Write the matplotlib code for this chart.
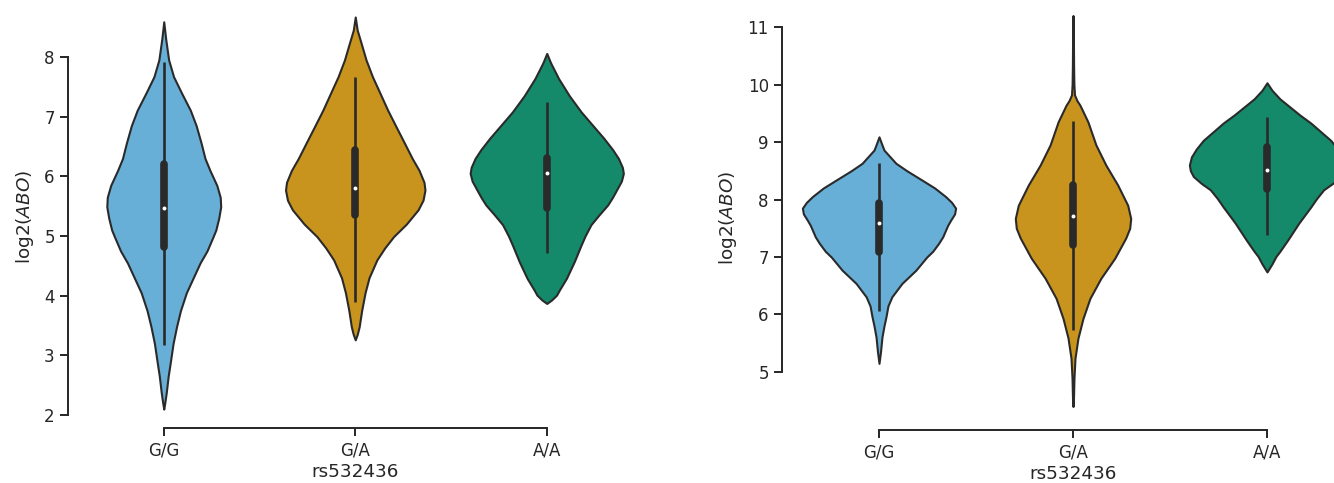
import colorsys
import numpy as np
import matplotlib
matplotlib.use("Agg")
import matplotlib.pyplot as plt
import matplotlib.colors as mcolors

genotypes = ["G/G", "G/A", "A/A"]

# left panel: outline (value, relative density)
left_gg_y = [8.59, 8.3, 7.95, 7.67, 7.4, 7.11, 6.85, 6.56, 6.3, 6.1, 5.85, 5.65, 5.49, 5.3,
             5.1, 4.98, 4.75, 4.55, 4.3, 4.05, 3.75, 3.48, 3.2, 2.92, 2.65, 2.37, 2.2, 2.1]
left_gg_d = [0, 2, 5, 10, 18, 27, 33, 38, 42, 47, 54, 57.5, 58, 56,
             53, 50, 44, 37, 30, 23, 17, 13, 9.5, 7, 4.5, 2.5, 1, 0]
left_ga_y = [8.67, 8.45, 8.23, 7.95, 7.67, 7.4, 7.11, 6.85, 6.56, 6.3, 6.1, 5.9, 5.77, 5.6,
             5.44, 5.2, 4.99, 4.8, 4.6, 4.3, 4.05, 3.75, 3.48, 3.35, 3.26]
left_ga_d = [0, 2, 6, 11, 17.5, 25, 33, 41, 50, 58, 65, 70, 71, 69,
             64, 52, 39, 30, 22, 14, 10, 6.5, 4, 2, 0]
left_aa_y = [8.06, 7.9, 7.64, 7.35, 7.08, 6.85, 6.64, 6.45, 6.3, 6.15, 6.05, 5.92, 5.8,
             5.65, 5.52, 5.35, 5.19, 5.0, 4.85, 4.57, 4.29, 4.1, 4.01, 3.93, 3.87]
left_aa_d = [0, 4, 12, 23, 35, 47, 58, 67, 73, 77, 78, 76, 72,
             67, 62, 53, 45, 39, 35, 28, 20, 13, 10, 5, 0]

# right panel
right_gg_y = [9.09, 8.95, 8.86, 8.63, 8.5, 8.34, 8.2, 8.05, 7.95, 7.85, 7.75, 7.64, 7.55,
              7.47, 7.35, 7.24, 7.1, 7.0, 6.77, 6.54, 6.31, 6.15, 5.96, 5.8, 5.61, 5.35, 5.15]
right_gg_d = [0, 3, 5, 17, 28, 43, 56, 67, 73, 77, 76, 72, 69,
              67, 64, 60, 54, 48, 37, 23, 13, 9, 7, 5, 3, 1.5, 0]
right_ga_y = [11.2, 10.8, 10.34, 10.0, 9.82, 9.72, 9.64, 9.35, 8.95, 8.6, 8.25, 7.9, 7.67,
              7.5, 7.33, 6.98, 6.63, 6.28, 5.93, 5.59, 5.24, 4.9, 4.55, 4.4]
right_ga_d = [0, 0.4, 0.6, 0.9, 1.5, 4, 7, 15, 23, 33, 45, 55, 58,
              57, 53, 42, 28, 17, 10, 5, 2, 1, 0.5, 0]
right_aa_y = [10.03, 9.9, 9.75, 9.61, 9.47, 9.33, 9.18, 9.03, 8.88, 8.74, 8.6, 8.5, 8.4,
              8.28, 8.17, 8.02, 7.87, 7.59, 7.3, 7.1, 7.01, 6.88, 6.74]
right_aa_d = [0, 5, 13, 23, 33, 44, 54, 64, 71, 76, 78, 77, 74,
              66, 57, 50, 44, 32, 21, 13, 9, 5, 0]

# box stats: whisker low, q1, median, q3, whisker high
left_box = [[3.17, 4.82, 5.47, 6.20, 7.92],
            [3.90, 5.35, 5.80, 6.44, 7.66],
            [4.72, 5.47, 6.06, 6.30, 7.25]]
right_box = [[6.06, 7.09, 7.60, 7.94, 8.63],
             [5.73, 7.20, 7.71, 8.25, 9.36],
             [7.38, 8.19, 8.51, 8.92, 9.43]]

base = ["#56B4E9", "#E69F00", "#009E73"]
edge = "#2a2a2a"


def desat(c, prop=0.75):
    r, g, b = mcolors.to_rgb(c)
    h, l, s = colorsys.rgb_to_hls(r, g, b)
    return colorsys.hls_to_rgb(h, l, s * prop)


colors = [desat(c) for c in base]


def draw_panel(ax, ys, ds, boxes, ylim, ybounds):
    scale = 0.4 / max(max(d) for d in ds)
    stats = []
    for y, d, b in zip(ys, ds, boxes):
        stats.append(dict(coords=np.array(y), vals=np.array(d, dtype=float),
                          mean=b[2], median=b[2], min=min(y), max=max(y)))
    widths = [2 * scale * max(d) for d in ds]
    parts = ax.violin(stats, positions=range(3), widths=widths,
                      showmeans=False, showextrema=False, showmedians=False)
    for body, c in zip(parts["bodies"], colors):
        body.set_facecolor(c)
        body.set_edgecolor(edge)
        body.set_alpha(1)
        body.set_linewidth(1.5)
        body.set_zorder(1)
    for i, b in enumerate(boxes):
        ax.vlines(i, b[0], b[4], color=edge, lw=1.9, zorder=2)
        ax.plot([i, i], [b[1], b[3]], color=edge, lw=5.5, solid_capstyle="round", zorder=3)
        ax.scatter([i], [b[2]], s=8, color="white", zorder=4, linewidths=0)

    ax.set_xlim(-0.5, 2.5)
    ax.set_ylim(*ylim)
    ax.set_xticks(range(3))
    ax.set_xticklabels(genotypes)
    for s in ["top", "right"]:
        ax.spines[s].set_visible(False)
    for s in ["left", "bottom"]:
        ax.spines[s].set_linewidth(1.4)
        ax.spines[s].set_color("#262626")
    ax.spines["left"].set_bounds(*ybounds)
    ax.spines["bottom"].set_bounds(0, 2)
    ax.set_yticks(np.arange(ybounds[0], ybounds[1] + 1))
    ax.tick_params(length=6, width=1.4, color="#262626", labelcolor="#262626", labelsize=12)
    ax.set_xlabel("rs532436", fontsize=13.2, color="#262626", labelpad=3)
    ax.set_ylabel("log2($ABO$)", fontsize=13.2, color="#262626", labelpad=6)


fig = plt.figure(figsize=(13.34, 4.83), dpi=100)
ax1 = fig.add_axes([68 / 1334, 55 / 483, 574.5 / 1334, 423 / 483])
ax2 = fig.add_axes([782 / 1334, 53 / 483, 582 / 1334, 425 / 483])

draw_panel(ax1, [left_gg_y, left_ga_y, left_aa_y], [left_gg_d, left_ga_d, left_aa_d],
           left_box, (1.783, 8.871), (2, 8))
draw_panel(ax2, [right_gg_y, right_ga_y, right_aa_y], [right_gg_d, right_ga_d, right_aa_d],
           right_box, (3.991, 11.383), (5, 11))

fig.savefig("out.png", dpi=100)
